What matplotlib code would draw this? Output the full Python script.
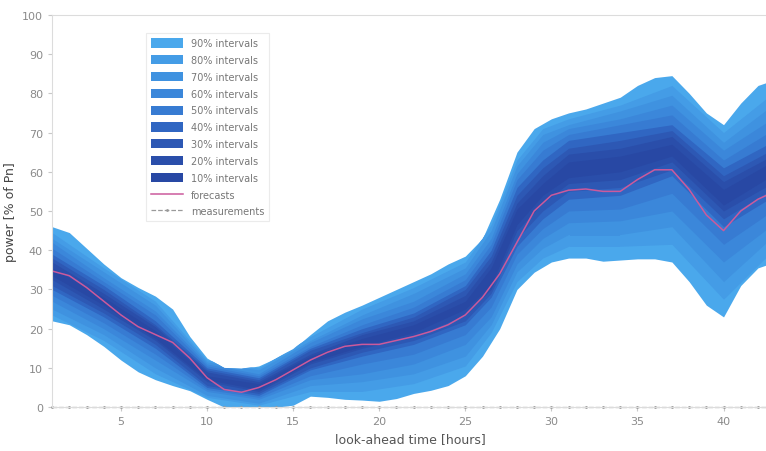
import matplotlib
matplotlib.use("Agg")
import matplotlib.pyplot as plt
import numpy as np

# hourly forecast and outer (90%) interval
hours = np.arange(1, 44)
forecast = [34.7, 33.5, 30.5, 27, 23.5, 20.5, 18.5, 16.5, 12.5, 7.5,
            4.5, 3.8, 5, 7, 9.5, 12, 14, 15.5, 16, 16,
            17, 18, 19.3, 21, 23.5, 28, 34, 42, 50, 54,
            55.3, 55.6, 55, 55, 58, 60.5, 60.5, 55.5, 49, 45,
            50, 53, 55]
upper_90 = [46, 44.5, 40.5, 36.5, 33, 30.5, 28.3, 25, 18, 12.5,
            10, 9.8, 10.5, 12.5, 14.8, 18.5, 22, 24.2, 26, 28,
            30, 32, 34, 36.5, 38.5, 43, 53, 65, 71, 73.5,
            75, 76, 77.5, 79, 82, 84, 84.5, 80, 75, 72,
            77.5, 82, 83.5]
lower_90 = [22, 21, 18.5, 15.5, 12, 9, 7, 5.5, 4.2, 2,
            0, 0, 0, 0, 0.5, 2.8, 2.5, 2, 1.8, 1.5,
            2.2, 3.5, 4.3, 5.5, 8, 13, 20, 30, 34.4, 37,
            38, 38, 37.2, 37.5, 37.8, 37.8, 37, 32, 26, 23,
            31, 35.5, 37]
measurements = [0] * 43

# inner intervals, read at coarser steps
hours_c = [1, 4, 7, 10, 13, 16, 19, 22, 25, 26.5, 28, 29.5, 31, 34, 37, 40, 43]
lower = {
    80: [23.5, 17, 8.5, 2.5, 0.5, 4, 4, 6, 10.5, 19, 32, 38, 41, 41, 41.5, 27.5, 40.5],
    70: [25, 18.5, 10, 3, 1, 5.5, 6.5, 8.5, 13, 21, 34.5, 40.5, 44, 44, 46, 32, 44],
    60: [27, 20, 12, 4, 2, 7, 8.5, 11, 16, 23, 36.5, 43, 47, 47.5, 50, 37, 47],
    50: [28.5, 21.5, 13.5, 4.5, 2.5, 8, 11, 13.5, 18.5, 25.5, 39, 45.5, 50, 50.5, 54.5, 41.5, 50.5],
    40: [30, 23, 15, 5, 3, 9.5, 13, 16, 21, 28, 41, 48, 53, 54, 59, 46, 54],
    30: [31, 24, 16, 5.5, 3.5, 10, 14, 17, 22, 29, 43, 50, 55, 56, 60.5, 48, 56],
    20: [32.5, 25, 17, 6.5, 4, 11, 15, 18, 23.5, 30, 45, 52, 57, 58, 62.5, 50, 57.5],
    10: [33.5, 26, 17.5, 7, 4.5, 11.5, 15.5, 19, 25, 31, 46.5, 54, 58.5, 60, 64, 51.5, 59.5],
}
upper = {
    80: [44.5, 35.5, 27, 12, 10, 18, 25, 30.5, 37, 46.5, 63, 71, 73.5, 77, 82, 70, 80.5],
    70: [43, 34.5, 26, 11.5, 9.5, 17, 23.5, 29, 35.5, 45, 61.5, 69.5, 72, 75.5, 79.5, 67.5, 77.5],
    60: [42, 33, 24.5, 11, 8.5, 16.5, 22.5, 27, 34, 43, 59.5, 67.5, 71, 73.5, 77, 65.5, 74],
    50: [40.5, 32, 23.5, 10.5, 8, 15.5, 21, 25.5, 32.5, 41.5, 58, 65.5, 69.5, 72, 74.5, 63, 71],
    40: [39, 31, 22, 10, 7.5, 15, 20, 24, 31, 40, 56, 63, 68, 70, 72, 61, 68],
    30: [38, 30, 21, 9.5, 7, 14.5, 19, 23, 30, 38.5, 54, 61, 66, 68, 70.5, 59, 66],
    20: [37, 29, 20.5, 9, 6.5, 13.5, 18.5, 22, 28.5, 37, 52, 59, 64.5, 66, 69, 57.5, 64.5],
    10: [35.5, 28, 19.5, 8, 6, 13, 17.5, 21, 27, 35.5, 50.5, 57, 62.5, 64, 67, 55.5, 63],
}
band_colors = {90: "#4aa8ec", 80: "#449ce6", 70: "#3f92e0", 60: "#3b87da",
               50: "#377bd2", 40: "#3066c2", 30: "#2d58b4", 20: "#2a4eaa",
               10: "#2848a4"}

fig = plt.figure(figsize=(7.66, 4.52), dpi=100)
ax = fig.add_axes([0.068, 0.097, 0.935, 0.868])

outer = ax.fill_between(hours, lower_90, upper_90, color=band_colors[90],
                        linewidth=0, label="90% intervals")
clip = outer.get_paths()[0]
for lev in [80, 70, 60, 50, 40, 30, 20, 10]:
    b = ax.fill_between(hours_c, lower[lev], upper[lev], color=band_colors[lev],
                        linewidth=0, label=f"{lev}% intervals")
    b.set_clip_path(clip, ax.transData)

ax.plot(hours, forecast, color="#cc5a9c", lw=1.1, label="forecasts")
ax.plot(hours, measurements, color="#9a9a9a", lw=0.9, ls="--", marker=".",
        markersize=2, label="measurements", clip_on=False)

ax.set_xlim(1, 42.6)
ax.set_ylim(0, 100)
ax.set_xticks([5, 10, 15, 20, 25, 30, 35, 40])
ax.set_yticks(range(0, 101, 10))
ax.tick_params(colors="#c8c8c8", labelcolor="#8a8a8a", labelsize=8, length=3)
for s in ax.spines.values():
    s.set_color("#dcdcdc")
ax.spines["right"].set_visible(False)
ax.set_xlabel("look-ahead time [hours]", color="#555555", fontsize=9)
ax.set_ylabel("power [% of Pn]", color="#444444", fontsize=9)

leg = ax.legend(loc="upper left", bbox_to_anchor=(0.125, 0.965), fontsize=7,
                labelcolor="#777777", handlelength=3.3, handleheight=1.1,
                labelspacing=0.7, borderpad=0.5, frameon=True, fancybox=False)
leg.get_frame().set_edgecolor("#e6e6e6")
leg.get_frame().set_linewidth(0.8)

fig.savefig("out.png", dpi=100)
